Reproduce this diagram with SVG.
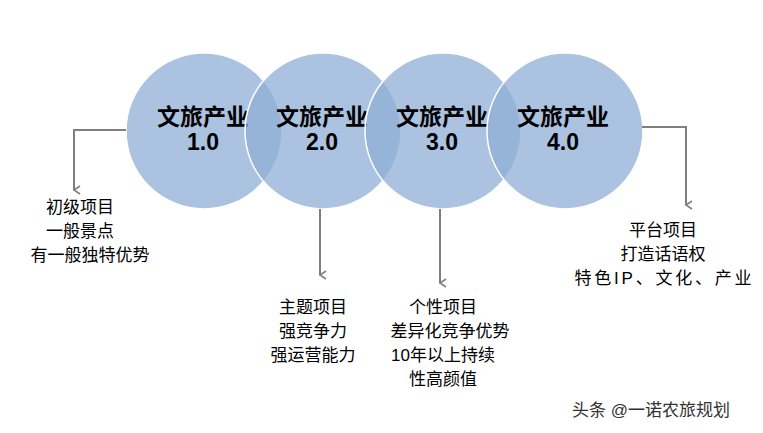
<svg xmlns="http://www.w3.org/2000/svg" width="763" height="433" viewBox="0 0 763 433">
<style>
.c{fill:#8fadd6;fill-opacity:0.75;stroke:#fff;stroke-width:1.5}
.t{font-family:"Liberation Sans","Noto Sans CJK SC",sans-serif;font-weight:bold;font-size:23px;fill:#000;text-anchor:middle}
.l{font-family:"Liberation Sans","Noto Sans CJK SC",sans-serif;font-size:17px;fill:#000;text-anchor:middle}
.w{font-family:"Liberation Sans","Noto Sans CJK SC",sans-serif;font-size:17px;fill:#333;}
.a{fill:none;stroke:#7f7f7f;stroke-width:2;marker-end:url(#m)}
</style>
<defs><marker id="m" markerWidth="10" markerHeight="10" refX="5" refY="8" orient="auto" markerUnits="userSpaceOnUse" viewBox="0 0 10 10"><path d="M1,2 L5,8 L9,2" fill="none" stroke="#7f7f7f" stroke-width="1.6"/></marker></defs>
<rect width="763" height="433" fill="#fff"/>
<g id="n1"><circle class="c" cx="204" cy="131" r="78"/><text class="t" x="203" y="125">文旅产业</text><text class="t" x="203" y="150">1.0</text></g>
<g id="n2"><circle class="c" cx="323" cy="131" r="78"/><text class="t" x="322" y="125">文旅产业</text><text class="t" x="322" y="150">2.0</text></g>
<g id="n3"><circle class="c" cx="443" cy="131" r="78"/><text class="t" x="442" y="125">文旅产业</text><text class="t" x="442" y="150">3.0</text></g>
<g id="n4"><circle class="c" cx="565" cy="131" r="78"/><text class="t" x="563" y="125">文旅产业</text><text class="t" x="563" y="150">4.0</text></g>
<g id="connectors">
<path class="a" d="M126,130 H74 V190"/>
<path class="a" d="M320,209 V275"/>
<path class="a" d="M440,209 V283"/>
<path class="a" d="M642,127 H686 V205"/>
</g>
<g id="labels">
<text class="l" x="80" y="213">初级项目</text><text class="l" x="80" y="237">一般景点</text><text class="l" x="90" y="261">有一般独特优势</text>
<text class="l" x="313" y="313">主题项目</text><text class="l" x="313" y="337">强竞争力</text><text class="l" x="313" y="361">强运营能力</text>
<text class="l" x="443" y="313">个性项目</text><text class="l" x="450" y="337">差异化竞争优势</text><text class="l" x="443" y="361">10年以上持续</text><text class="l" x="443" y="385">性高颜值</text>
<text class="l" x="663" y="236">平台项目</text><text class="l" x="663" y="260">打造话语权</text><text class="l" x="663" y="284" textLength="177">特色IP、文化、产业</text>
</g>
<text class="w" x="572" y="416">头条 @一诺农旅规划</text>
</svg>
